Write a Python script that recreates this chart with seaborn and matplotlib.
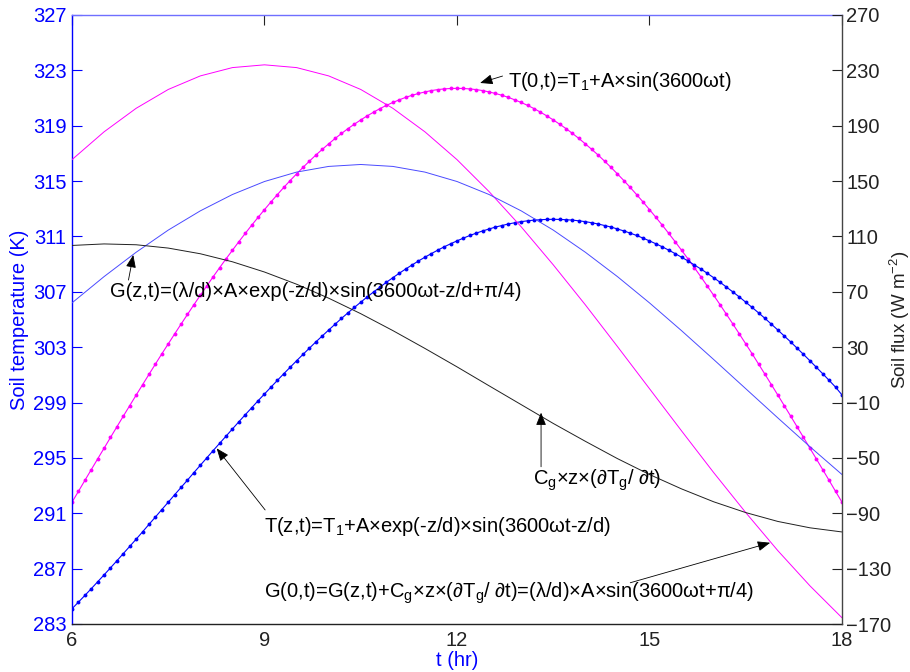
import numpy as np
import pandas as pd
import matplotlib
matplotlib.use("Agg")
import matplotlib.pyplot as plt
import seaborn as sns

# sample times (hr)
t_fine = np.round(np.arange(60, 181) / 10.0, 1)
t_half = np.round(np.arange(12, 37) / 2.0, 1)

# surface temperature T(0,t) (K)
temp_surface = [
    291.80, 292.58, 293.37, 294.15, 294.93, 295.70, 296.48, 297.25, 298.02, 298.78,
    299.54, 300.29, 301.04, 301.78, 302.52, 303.24, 303.96, 304.67, 305.37, 306.07,
    306.75, 307.42, 308.09, 308.74, 309.38, 310.00, 310.62, 311.22, 311.81, 312.38,
    312.94, 313.49, 314.02, 314.54, 315.04, 315.52, 315.99, 316.44, 316.88, 317.29,
    317.69, 318.08, 318.44, 318.79, 319.11, 319.42, 319.71, 319.98, 320.24, 320.47,
    320.68, 320.87, 321.05, 321.20, 321.33, 321.44, 321.54, 321.61, 321.66, 321.69,
    321.70,
    321.69, 321.66, 321.61, 321.54, 321.44, 321.33, 321.20, 321.05, 320.87, 320.68,
    320.47, 320.24, 319.98, 319.71, 319.42, 319.11, 318.79, 318.44, 318.08, 317.69,
    317.29, 316.88, 316.44, 315.99, 315.52, 315.04, 314.54, 314.02, 313.49, 312.94,
    312.38, 311.81, 311.22, 310.62, 310.00, 309.38, 308.74, 308.09, 307.42, 306.75,
    306.07, 305.37, 304.67, 303.96, 303.24, 302.52, 301.78, 301.04, 300.29, 299.54,
    298.78, 298.02, 297.25, 296.48, 295.70, 294.93, 294.15, 293.37, 292.58, 291.80,
]

# temperature at depth T(z,t) (K)
temp_depth = [
    284.10, 284.58, 285.06, 285.55, 286.05, 286.55, 287.06, 287.57, 288.09, 288.61,
    289.13, 289.66, 290.20, 290.73, 291.27, 291.80, 292.34, 292.87, 293.40, 293.94,
    294.47, 295.00, 295.53, 296.05, 296.57, 297.09, 297.61, 298.12, 298.62, 299.13,
    299.62, 300.11, 300.60, 301.08, 301.55, 302.02, 302.48, 302.93, 303.38, 303.81,
    304.24, 304.66, 305.08, 305.48, 305.87, 306.25, 306.63, 306.99, 307.34, 307.69,
    308.02, 308.34, 308.65, 308.94, 309.23, 309.50, 309.76, 310.01, 310.25, 310.47,
    310.68, 310.88, 311.07, 311.24, 311.40, 311.54, 311.68, 311.79, 311.90, 311.99,
    312.07, 312.13, 312.18, 312.21, 312.23, 312.24, 312.23, 312.21, 312.18, 312.13,
    312.07, 311.99, 311.90, 311.79, 311.68, 311.54, 311.40, 311.24, 311.07, 310.88,
    310.68, 310.47, 310.25, 310.01, 309.76, 309.50, 309.23, 308.94, 308.65, 308.34,
    308.02, 307.69, 307.34, 306.99, 306.63, 306.25, 305.87, 305.48, 305.08, 304.66,
    304.24, 303.81, 303.38, 302.93, 302.48, 302.02, 301.55, 301.08, 300.60, 300.11,
    299.55,
]

# fluxes (W m-2), every half hour
flux_surface = [165.5, 185.6, 202.6, 216.2, 226.0, 232.0, 234.0, 232.0, 226.0, 216.2,
                202.6, 185.6, 165.5, 142.4, 117.0, 89.5, 60.6, 30.5, 0.0, -30.5,
                -60.6, -89.5, -117.0, -142.4, -165.5]
flux_depth = [62.0, 81.0, 98.6, 114.6, 128.5, 140.3, 149.7, 156.5, 160.6, 162.0,
              160.6, 156.5, 149.7, 140.3, 128.5, 114.6, 98.6, 81.0, 62.0, 41.9,
              21.1, 0.0, -21.1, -41.9, -62.0]
flux_storage = [103.5, 104.6, 104.0, 101.6, 97.5, 91.7, 84.3, 75.5, 65.4, 54.2,
                42.0, 29.1, 15.8, 2.1, -11.5, -25.1, -38.0, -50.5, -62.0, -72.4,
                -81.7, -89.5, -95.9, -100.5, -103.5]

x_ticks = [6, 9, 12, 15, 18]
left_ticks = list(range(283, 328, 4))
right_ticks = list(range(-170, 271, 40))

temps = pd.DataFrame({"t": t_fine, "surface": temp_surface, "depth": temp_depth})
fluxes = pd.DataFrame({"t": t_half, "surface": flux_surface, "depth": flux_depth, "storage": flux_storage})

sns.set_style("white")
plt.rcParams["font.family"] = ["Liberation Sans", "DejaVu Sans"]
plt.rcParams["mathtext.fontset"] = "custom"
plt.rcParams["mathtext.rm"] = "Liberation Sans"
plt.rcParams["mathtext.it"] = "Liberation Sans"
plt.rcParams["mathtext.default"] = "rm"

fs = 14.5
fig = plt.figure(figsize=(9.1, 6.72), dpi=100)
ax = fig.add_axes([72 / 910, 48 / 672, 770 / 910, 609 / 672])
ax2 = ax.twinx()

sns.lineplot(data=temps, x="t", y="surface", ax=ax, color="#ff00ff", lw=0.8,
             marker="o", markersize=2.8, markeredgewidth=0, markerfacecolor="#ff00ff")
sns.lineplot(data=temps, x="t", y="depth", ax=ax, color="#0000ff", lw=0.8,
             marker="o", markersize=2.8, markeredgewidth=0, markerfacecolor="#0000ff")

sns.lineplot(data=fluxes, x="t", y="surface", ax=ax2, color="#ff00ff", lw=0.7)
sns.lineplot(data=fluxes, x="t", y="depth", ax=ax2, color="#4a4aff", lw=0.7)
sns.lineplot(data=fluxes, x="t", y="storage", ax=ax2, color="#202020", lw=0.7)

ax.set_xlim(6, 18)
ax.set_ylim(283, 327)
ax2.set_ylim(-170, 270)
ax.set_xticks(x_ticks)
ax.set_yticks(left_ticks)
ax2.set_yticks(right_ticks)

ax.tick_params(axis="y", colors="blue", direction="in", length=7, labelsize=fs, pad=4)
ax.tick_params(axis="x", colors="#222222", direction="in", length=7, labelsize=fs, pad=5, top=True)
for tk in ax.xaxis.get_major_ticks():
    tk.tick2line.set_color("#6f6fff")
ax2.tick_params(axis="y", colors="#222222", direction="in", length=7, labelsize=fs, pad=3)

for s in ["top", "right", "bottom", "left"]:
    ax2.spines[s].set_visible(s == "right")
ax.spines["right"].set_visible(False)
ax.spines["left"].set_color("blue")
ax.spines["top"].set_color("#6f6fff")
ax.spines["bottom"].set_color("#222222")
ax2.spines["right"].set_color("#444444")
for s in ax.spines.values():
    s.set_linewidth(1.0)
ax2.spines["right"].set_linewidth(1.0)

ax.set_xlabel("t (hr)", color="blue", fontsize=fs)
ax.set_ylabel("Soil temperature (K)", color="blue", fontsize=fs)
ax2.set_ylabel("Soil flux (W m$^{-2}$)", color="#222222", fontsize=13.5)
ax.xaxis.set_label_coords(0.5, -0.044)
ax.yaxis.set_label_coords(-0.056, 0.5)
ax2.yaxis.set_label_coords(1.059, 0.5)

# annotations: (text position, arrow tail, arrow tip) in left-axis data units
notes = [
    ("T(0,t)=T$_1$+A×sin(3600ωt)", (12.79, 322.16), (12.71, 322.59), (12.36, 322.09)),
    ("G(z,t)=(λ/d)×A×exp(-z/d)×sin(3600ωt-z/d+π/4)", (6.59, 307.01), (6.88, 307.85), (6.955, 309.66)),
    ("T(z,t)=T$_1$+A×exp(-z/d)×sin(3600ωt-z/d)", (8.99, 290.03), (9.01, 291.24), (8.255, 295.69)),
    ("C$_g$×z×(∂T$_g$/ ∂t)", (13.19, 293.40), (13.31, 294.36), (13.31, 298.27)),
    ("G(0,t)=G(z,t)+C$_g$×z×(∂T$_g$/ ∂t)=(λ/d)×A×sin(3600ωt+π/4)", (8.99, 285.22), (14.70, 285.98), (16.88, 288.87)),
]
for label, pos, tail, tip in notes:
    ax2.annotate("", xy=tip, xytext=tail, xycoords=ax.transData, textcoords=ax.transData,
                 arrowprops=dict(arrowstyle="-|>,head_length=0.55,head_width=0.22",
                                 mutation_scale=14, color="black", lw=0.6, shrinkA=0, shrinkB=0))
    ax2.text(pos[0], pos[1], label, transform=ax.transData, ha="left", va="center",
             fontsize=fs, color="black")

fig.savefig("out.png", dpi=100)
